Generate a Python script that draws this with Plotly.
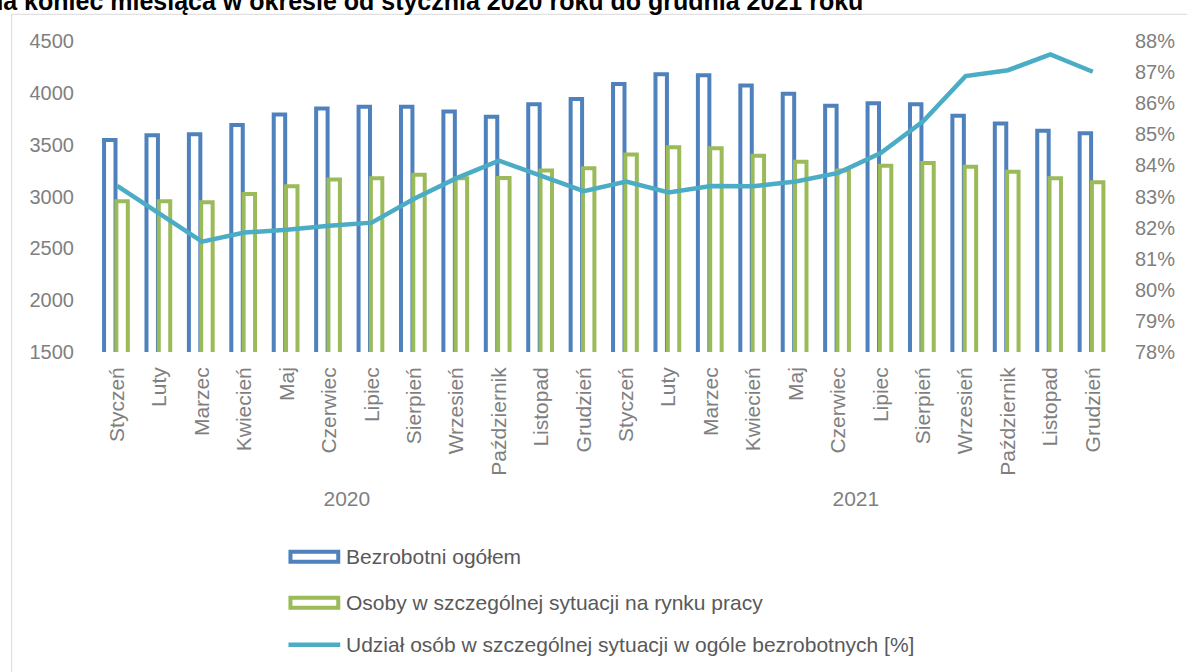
import plotly.graph_objects as go

months = ["Styczeń", "Luty", "Marzec", "Kwiecień", "Maj", "Czerwiec", "Lipiec",
          "Sierpień", "Wrzesień", "Październik", "Listopad", "Grudzień"]
years = ["2020", "2021"]

bezrobotni = [3545, 3590, 3600, 3690, 3790, 3850, 3865, 3865, 3820, 3770, 3890, 3940,
              4085, 4180, 4170, 4070, 3990, 3875, 3900, 3890, 3780, 3705, 3635, 3610]
szczegolna = [2955, 2955, 2945, 3025, 3100, 3165, 3175, 3210, 3175, 3178, 3252, 3272,
              3405, 3475, 3465, 3392, 3335, 3252, 3297, 3322, 3288, 3238, 3176, 3138]
udzial = [83.34, 82.45, 81.55, 81.84, 81.93, 82.06, 82.16, 82.93, 83.59, 84.15, 83.65, 83.17,
          83.48, 83.13, 83.34, 83.33, 83.48, 83.76, 84.40, 85.42, 86.87, 87.06, 87.57, 87.01]

series_names = ["Bezrobotni ogółem",
                "Osoby w szczególnej sytuacji na rynku pracy",
                "Udział osób w szczególnej sytuacji w ogóle bezrobotnych [%]"]
title_text = "na koniec miesiąca w okresie od stycznia 2020 roku do grudnia 2021 roku"

BLUE = "#4F81BD"
GREEN = "#9BBB59"
AQUA = "#4BACC6"
GRAY = "#7F7F7F"
FONT = "Liberation Sans"

x_multi = [[y for y in years for _ in months], [m for _ in years for m in months]]

# page geometry (pixels)
W, H = 1187, 672
L, R = 95.7, 1118.1
T, B = 40.7, 352.0


def px(x):
    return (x - L) / (R - L)


def py(y):
    return (B - y) / (B - T)


fig = go.Figure()
fig.add_trace(go.Bar(x=x_multi, y=bezrobotni, name=series_names[0],
                     marker=dict(color="white", line=dict(color=BLUE, width=4)),
                     offset=-0.31, width=0.27, showlegend=False))
fig.add_trace(go.Bar(x=x_multi, y=szczegolna, name=series_names[1],
                     marker=dict(color="white", line=dict(color=GREEN, width=4)),
                     offset=-0.02, width=0.27, showlegend=False))
fig.add_trace(go.Scatter(x=x_multi, y=udzial, name=series_names[2], yaxis="y2",
                         mode="lines", line=dict(color=AQUA, width=4.5),
                         showlegend=False))

shapes = [
    dict(type="rect", xref="paper", yref="paper", x0=px(11), x1=px(1300), y0=py(14), y1=py(800),
         line=dict(color="#D9D9D9", width=1), fillcolor="rgba(0,0,0,0)", layer="below"),
    dict(type="rect", xref="paper", yref="paper", x0=px(291), x1=px(339), y0=py(552), y1=py(562),
         line=dict(color=BLUE, width=4), fillcolor="white"),
    dict(type="rect", xref="paper", yref="paper", x0=px(291), x1=px(339), y0=py(598), y1=py(608),
         line=dict(color=GREEN, width=4), fillcolor="white"),
    dict(type="line", xref="paper", yref="paper", x0=px(289), x1=px(341), y0=py(645), y1=py(645),
         line=dict(color=AQUA, width=4.5)),
]

LEG_FONT = dict(family=FONT, size=21, color="#595959")
annotations = [
    dict(text=series_names[0], x=px(345), y=py(557), xref="paper", yref="paper",
         xanchor="left", yanchor="middle", showarrow=False, font=LEG_FONT),
    dict(text=series_names[1], x=px(345), y=py(603), xref="paper", yref="paper",
         xanchor="left", yanchor="middle", showarrow=False, font=LEG_FONT),
    dict(text=series_names[2], x=px(345), y=py(645), xref="paper", yref="paper",
         xanchor="left", yanchor="middle", showarrow=False, font=LEG_FONT),
    dict(text="<b>" + title_text + "</b>", x=px(868), y=py(1), xref="paper", yref="paper",
         xanchor="right", yanchor="middle", showarrow=False,
         font=dict(family=FONT, size=25, color="black")),
]

fig.update_layout(
    width=W, height=H,
    margin=dict(l=L, r=W - R, t=T, b=H - B, pad=0),
    paper_bgcolor="white", plot_bgcolor="white",
    barmode="overlay",
    font=dict(family=FONT, size=19, color=GRAY),
    xaxis=dict(type="multicategory", tickangle=-90, showgrid=False, zeroline=False,
               showline=False, ticks="", showdividers=False, ticklabelstandoff=10,
               tickfont=dict(family=FONT, size=21, color=GRAY)),
    yaxis=dict(range=[1500, 4500], dtick=500, showgrid=False, zeroline=False,
               showline=False, ticks="", ticklabelstandoff=21,
               tickfont=dict(family=FONT, size=20, color=GRAY)),
    yaxis2=dict(range=[78, 88], dtick=1, ticksuffix="%", overlaying="y", side="right",
                showgrid=False, zeroline=False, showline=False, ticks="",
                ticklabelstandoff=20,
                tickfont=dict(family=FONT, size=20, color=GRAY)),
    shapes=shapes,
    annotations=annotations,
)

fig.write_html("out.html", config={"displayModeBar": False},
               post_script="document.body.style.margin='0';document.body.style.overflow='hidden';")
